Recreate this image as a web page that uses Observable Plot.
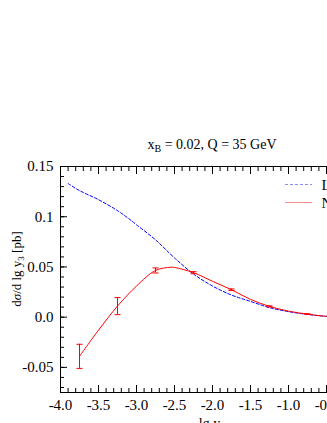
<!DOCTYPE html>
<html><head><meta charset="utf-8">
<script src="https://cdn.jsdelivr.net/npm/d3@7"></script>
<script src="https://cdn.jsdelivr.net/npm/@observablehq/plot@0.6"></script>
<style>
html,body{margin:0;padding:0;background:#fff;overflow:hidden;width:327px;height:423px}
#chart{width:400px}
svg{max-width:none !important;height:423px !important;width:400px !important}
svg text{font-family:'Liberation Serif','Times New Roman',serif}
</style>
</head><body><div id="chart"></div>
<script>
// LO (dashed blue)
const loX = [-3.9, -3.75, -3.5, -3.25, -3.1, -3.0, -2.75, -2.5, -2.25, -2.0, -1.75, -1.5, -1.25, -1.0, -0.75, -0.5, -0.25, -0.05];
const loY = [0.133, 0.126, 0.117, 0.106, 0.098, 0.092, 0.077, 0.059, 0.043, 0.031, 0.022, 0.0157, 0.0095, 0.0055, 0.0027, 0.0008, 0.0001, 0.0];
// NLO (solid red)
const nloX = [-3.75, -3.5, -3.25, -3.0, -2.75, -2.55, -2.5, -2.25, -2.0, -1.75, -1.5, -1.25, -1.0, -0.75, -0.5, -0.25, -0.05];
const nloY = [-0.039, -0.013, 0.011, 0.031, 0.0465, 0.0497, 0.0495, 0.0443, 0.0357, 0.0273, 0.0177, 0.0107, 0.006, 0.003, 0.0008, 0.0001, 0.0];
// NLO error bars
const errX = [-3.75, -3.25, -2.75, -2.25, -1.75, -1.25, -0.75];
const errY = [-0.039, 0.011, 0.0465, 0.0443, 0.0273, 0.0107, 0.003];
const errD = [0.012, 0.0085, 0.0025, 0.001, 0.0008, 0.0006, 0.0004];
// ticks
const xTicks = [-4.0, -3.5, -3.0, -2.5, -2.0, -1.5, -1.0, -0.5, 0.0];
const xTickLabels = ["-4.0", "-3.5", "-3.0", "-2.5", "-2.0", "-1.5", "-1.0", "-0.5", "0.0"];
const yTicks = [-0.05, 0.0, 0.05, 0.1, 0.15];
const yTickLabels = ["-0.05", "0.0", "0.05", "0.1", "0.15"];
const xMinor = d3.range(-40, 1).map(i => i / 10);
const yMinor = d3.range(-7, 16).map(i => i / 100);
const seriesNames = ["LO", "NLO"];
const seriesColors = ["#0000ff", "#ff0000"];
const legendColors = ["#8c8cff", "#ff8c8c"];

const lo = loX.map((x, i) => ({x, y: loY[i]}));
const nlo = nloX.map((x, i) => ({x, y: nloY[i]}));
const err = errX.map((x, i) => ({x, y: errY[i], e: errD[i]}));

const cap = {draw(ctx) { ctx.moveTo(-3, 0); ctx.lineTo(3, 0); }};
const fmtX = d => xTickLabels[xTicks.indexOf(d)];
const fmtY = d => yTickLabels[yTicks.indexOf(d)];
const blank = () => "";

const plot = Plot.plot({
  width: 400, height: 423,
  marginLeft: 60, marginRight: 36, marginTop: 166, marginBottom: 31,
  style: {fontSize: "15px", color: "black", background: "white", overflow: "visible", maxWidth: "none"},
  x: {domain: [-4, 0]},
  y: {domain: [-0.075, 0.15]},
  marks: [
    Plot.frame({stroke: "black"}),
    Plot.axisX(xTicks, {anchor: "bottom", tickSize: -7, tickFormat: blank, label: null}),
    Plot.axisX(xMinor, {anchor: "bottom", tickSize: -4, tickFormat: blank, label: null}),
    Plot.axisX(xTicks, {anchor: "top", tickSize: -7, tickFormat: blank, label: null}),
    Plot.axisX(xMinor, {anchor: "top", tickSize: -4, tickFormat: blank, label: null}),
    Plot.axisX(xTicks, {anchor: "bottom", tickSize: 0, tickPadding: 7, tickFormat: fmtX, label: null}),
    Plot.axisY(yTicks, {anchor: "left", tickSize: -7, tickFormat: blank, label: null}),
    Plot.axisY(yMinor, {anchor: "left", tickSize: -4, tickFormat: blank, label: null}),
    Plot.axisY(yTicks, {anchor: "left", tickSize: 0, tickPadding: 7, tickFormat: fmtY, label: null}),
    Plot.line(lo, {x: "x", y: "y", stroke: seriesColors[0], strokeWidth: 1, strokeDasharray: "3,2", curve: "catmull-rom"}),
    Plot.line(nlo, {x: "x", y: "y", stroke: seriesColors[1], strokeWidth: 1, curve: "catmull-rom"}),
    Plot.ruleX(err, {x: "x", y1: d => d.y - d.e, y2: d => d.y + d.e, stroke: seriesColors[1], strokeWidth: 1}),
    Plot.dot(err, {x: "x", y: d => d.y - d.e, symbol: cap, fill: "none", stroke: seriesColors[1], strokeWidth: 1}),
    Plot.dot(err, {x: "x", y: d => d.y + d.e, symbol: cap, fill: "none", stroke: seriesColors[1], strokeWidth: 1})
  ]
});
document.getElementById("chart").appendChild(plot);

const svg = d3.select(plot);
const sx = plot.scale("x"), sy = plot.scale("y");
const cx = (sx.apply(-4) + sx.apply(0)) / 2;
const cy = (sy.apply(-0.075) + sy.apply(0.15)) / 2;

// title
const t = svg.append("text").attr("x", cx).attr("y", 149).attr("text-anchor", "middle").style("font-size", "14px").attr("fill", "black");
t.append("tspan").text("x");
t.append("tspan").attr("dy", 3).style("font-size", "10px").text("B");
t.append("tspan").attr("dy", -3).text(" = 0.02, Q = 35 GeV");

// y label
const yl = svg.append("text").attr("transform", `translate(21,${cy - 10}) rotate(-90)`).attr("text-anchor", "middle").style("font-size", "13px").attr("fill", "black");
yl.append("tspan").text("d");
yl.append("tspan").style("font-style", "italic").text("σ");
yl.append("tspan").text("/d lg y");
yl.append("tspan").attr("dy", 3).style("font-size", "9px").text("3");
yl.append("tspan").attr("dy", -3).text(" [pb]");

// x label
const xl = svg.append("text").attr("x", cx).attr("y", 428).attr("text-anchor", "middle").style("font-size", "14px").attr("fill", "black");
xl.append("tspan").text("lg y");
xl.append("tspan").attr("dy", 3).style("font-size", "10px").text("3");

// legend
const legY = [184.5, 202.5];
seriesNames.forEach((name, i) => {
  svg.append("line").attr("x1", 285).attr("x2", 312).attr("y1", legY[i]).attr("y2", legY[i])
    .attr("stroke", legendColors[i]).attr("stroke-width", 1).attr("stroke-dasharray", i === 0 ? "3,2" : null);
  svg.append("text").attr("x", 321.5).attr("y", legY[i] + 5).attr("text-anchor", "start").style("font-size", "15px").attr("fill", "black").text(name);
});
</script>
</body></html>
